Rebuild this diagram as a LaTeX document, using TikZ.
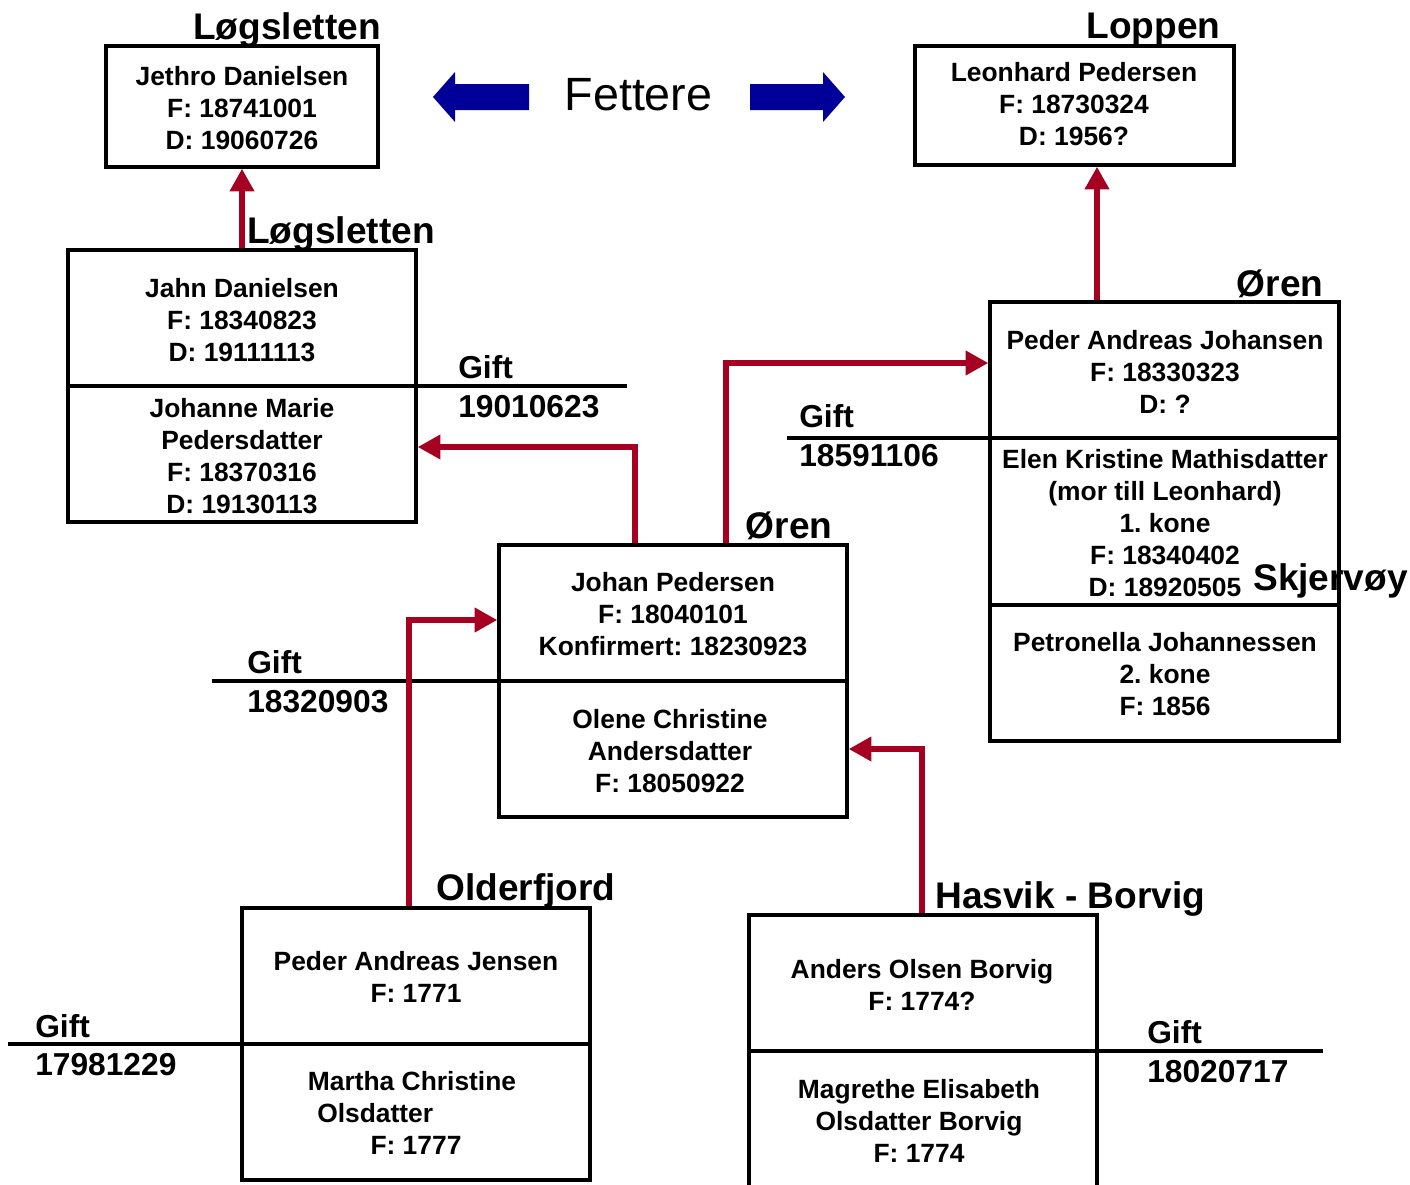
\documentclass[tikz,border=0pt]{standalone}
\usepackage{fontspec}
\setmainfont{Liberation Sans}
\frenchspacing
\usetikzlibrary{arrows.meta,fit}
\definecolor{kinred}{HTML}{A50021}
\definecolor{kinblue}{HTML}{000099}
\tikzset{
  box/.style={draw=black, line width=2.5pt, inner sep=0pt},
  divider/.style={draw=black, line width=2.5pt},
  person/.style={align=center, inner sep=0pt, font=\fontsize{19.8}{24}\selectfont\bfseries},
  place/.style={inner sep=0pt, font=\fontsize{27.8}{30}\selectfont\bfseries},
  giftlbl/.style={inner sep=0pt, anchor=base west, font=\fontsize{23.8}{26}\selectfont\bfseries},
  kin/.style={draw=kinred, line width=5pt, line join=miter, -{Triangle[length=17pt,width=17.5pt]}},
  fat/.style={fill=kinblue, draw=none}
}
\begin{document}
\begin{tikzpicture}[x=0.75pt,y=-0.75pt]
\useasboundingbox (0,0) rectangle (1410,1185);
\clip (0,0) rectangle (1410,1185);

% boxes
\node[box, fit={(106,46) (378,167)}] (jethro) {};
\node[box, fit={(915,46) (1234,165)}] (leon) {};
\node[box, fit={(68,250) (416,522)}] (jahn) {};
\node[box, fit={(990,302) (1339,741)}] (pajo) {};
\node[box, fit={(499,545) (847,817)}] (johan) {};
\node[box, fit={(242,908) (590,1180)}] (jensen) {};
\node[box, fit={(749,915) (1097,1200)}] (anders) {};

% dividers and marriage lines
\draw[divider] (68,386) -- (627,386);
\draw[divider] (787,438) -- (1339,438);
\draw[divider] (990,605) -- (1339,605);
\draw[divider] (212,681) -- (847,681);
\draw[divider] (8,1044) -- (590,1044);
\draw[divider] (749,1051) -- (1323,1051);

% person texts
\node[person] (tjethro) at (242,108) {Jethro Danielsen\\F: 18741001\\D: 19060726};
\node[person] (tleon) at (1074,104) {Leonhard Pedersen\\F: 18730324\\D: 1956?};
\node[person] (tjahn) at (242,320) {Jahn Danielsen\\F: 18340823\\D: 19111113};
\node[person] (tjohanne) at (242,456) {Johanne Marie\\Pedersdatter\\F: 18370316\\D: 19130113};
\node[person] (tpajo) at (1165,372) {Peder Andreas Johansen\\F: 18330323\\D: ?};
\node[person] (telen) at (1165,523) {Elen Kristine Mathisdatter\\(mor till Leonhard)\\1. kone\\F: 18340402\\D: 18920505};
\node[person] (tpetro) at (1165,674) {Petronella Johannessen\\2. kone\\F: 1856};
\node[person] (tjohan) at (673,614) {Johan Pedersen\\F: 18040101\\Konfirmert: 18230923};
\node[person] (tolene) at (670,751) {Olene Christine\\Andersdatter\\F: 18050922};
\node[person] (tjensen) at (416,977) {Peder Andreas Jensen\\F: 1771};
\node[person] (tmartha1) at (412,1081) {Martha Christine};
\node[person, anchor=west] (tmartha2) at (317,1113) {Olsdatter};
\node[person] (tmartha3) at (416,1145) {F: 1777};
\node[person] (tanders) at (922,985) {Anders Olsen Borvig\\F: 1774?};
\node[person] (tmagrethe) at (919,1121) {Magrethe Elisabeth\\Olsdatter Borvig\\F: 1774};

% place names
\node[place, anchor=base] (p1) at (287,39) {Løgsletten};
\node[place, anchor=base] (p2) at (1153.5,38) {Loppen};
\node[place, anchor=base west] (p3) at (247,243) {Løgsletten};
\node[place, anchor=base] (p4) at (1280,296) {Øren};
\node[place, anchor=base] (p5) at (789,538) {Øren};
\node[place, anchor=base west] (p6) at (1253,590) {Skjervøy};
\node[place, anchor=base west] (p7) at (436,900) {Olderfjord};
\node[place, anchor=base west] (p8) at (935,908) {Hasvik - Borvig};

% marriage labels
\node[giftlbl] (g1a) at (458,378) {Gift};
\node[giftlbl] (g1b) at (458,417) {19010623};
\node[giftlbl] (g2a) at (799,427) {Gift};
\node[giftlbl] (g2b) at (799,466) {18591106};
\node[giftlbl] (g3a) at (247,673) {Gift};
\node[giftlbl] (g3b) at (247,712) {18320903};
\node[giftlbl] (g4a) at (35,1037) {Gift};
\node[giftlbl] (g4b) at (35,1075) {17981229};
\node[giftlbl] (g5a) at (1147,1043) {Gift};
\node[giftlbl] (g5b) at (1147,1082) {18020717};

% Fettere with blue block arrows
\node[inner sep=0pt, anchor=base, font=\fontsize{35}{40}\selectfont] (fettere) at (638.5,110) {Fettere};
\fill[fat] (433,97) -- (455,72) -- (455,84) -- (529,84) -- (529,110) -- (455,110) -- (455,122) -- cycle;
\fill[fat] (845,97) -- (823,72) -- (823,84) -- (750,84) -- (750,110) -- (823,110) -- (823,122) -- cycle;

% descent connectors
\draw[kin] (jahn.north) -- (jethro.south);
\draw[kin] (1097,0 |- pajo.north) -- (1097,0 |- leon.south);
\draw[kin] (635,0 |- johan.north) |- (jahn.east |- 0,447);
\draw[kin] (726,0 |- johan.north) |- (pajo.west |- 0,363);
\draw[kin] (409,0 |- jensen.north) |- (johan.west |- 0,620);
\draw[kin] (922,0 |- anders.north) |- (johan.east |- 0,749);
\end{tikzpicture}
\end{document}
